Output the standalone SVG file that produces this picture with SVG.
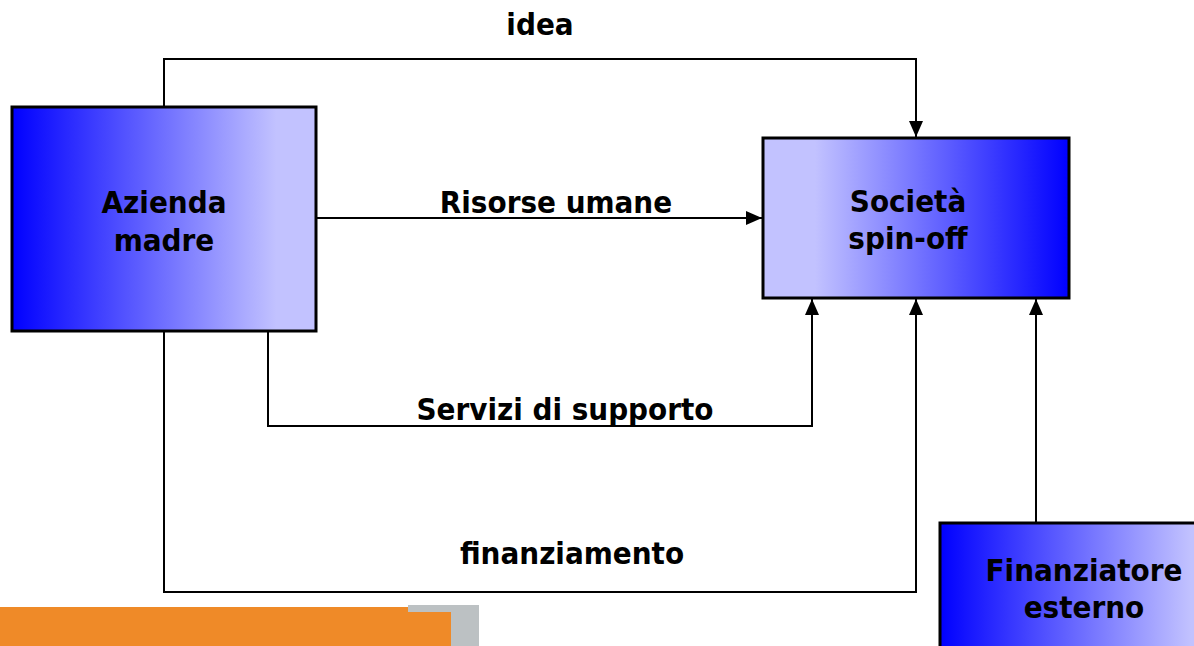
<svg xmlns="http://www.w3.org/2000/svg" width="1194" height="646" viewBox="0 0 1194 646">
<defs>
<linearGradient id="gL" x1="0" y1="0" x2="1" y2="0">
<stop offset="0" stop-color="#0000ff"/>
<stop offset="0.87" stop-color="#c2c2ff"/>
<stop offset="1" stop-color="#c2c2ff"/>
</linearGradient>
<linearGradient id="gR" x1="0" y1="0" x2="1" y2="0">
<stop offset="0" stop-color="#c2c2ff"/>
<stop offset="0.17" stop-color="#c2c2ff"/>
<stop offset="1" stop-color="#0000ff"/>
</linearGradient>
<linearGradient id="gF" x1="0" y1="0" x2="1" y2="0">
<stop offset="0" stop-color="#0000ff"/>
<stop offset="0.95" stop-color="#c2c2ff"/>
<stop offset="1" stop-color="#c2c2ff"/>
</linearGradient>
<marker id="arr" viewBox="0 0 16 14" refX="16" refY="7" markerWidth="16" markerHeight="14" markerUnits="userSpaceOnUse" orient="auto">
<path d="M0,0 L16,7 L0,14 Z" fill="#000"/>
</marker>
</defs>
<style>
.box{stroke:#000;stroke-width:3}
.t{font-family:"DejaVu Sans Condensed","DejaVu Sans","Liberation Sans",sans-serif;font-stretch:condensed;font-weight:bold;font-size:31px;fill:#000;text-anchor:middle}
.c{fill:none;stroke:#000;stroke-width:2}
</style>
<g id="footer">
<rect x="408" y="605" width="71" height="41" fill="#bcc1c3"/>
<path d="M0,607 L408,607 L408,612 L451,612 L451,646 L0,646 Z" fill="#ef8a28"/>
</g>
<g id="connectors">
<path class="c" d="M164,107 V59 H916 V137" marker-end="url(#arr)"/>
<path class="c" d="M316,218 H762" marker-end="url(#arr)"/>
<path class="c" d="M268,331 V426 H812 V299" marker-end="url(#arr)"/>
<path class="c" d="M164,331 V592 H916 V299" marker-end="url(#arr)"/>
<path class="c" d="M1036,522 V299" marker-end="url(#arr)"/>
<text class="t" x="540" y="35">idea</text>
<text class="t" x="556" y="213">Risorse umane</text>
<text class="t" x="565" y="420">Servizi di supporto</text>
<text class="t" x="572" y="564">finanziamento</text>
</g>
<g id="azienda">
<rect class="box" x="12" y="107" width="304" height="224" fill="url(#gL)"/>
<text class="t" x="164" y="213">Azienda</text>
<text class="t" x="164" y="251">madre</text>
</g>
<g id="spinoff">
<rect class="box" x="763" y="138" width="306" height="160" fill="url(#gR)"/>
<text class="t" x="908" y="212">Società</text>
<text class="t" x="908" y="249">spin-off</text>
</g>
<g id="finanziatore">
<rect class="box" x="940" y="523" width="264" height="140" fill="url(#gF)"/>
<text class="t" x="1084" y="581">Finanziatore</text>
<text class="t" x="1084" y="618">esterno</text>
</g>
</svg>
